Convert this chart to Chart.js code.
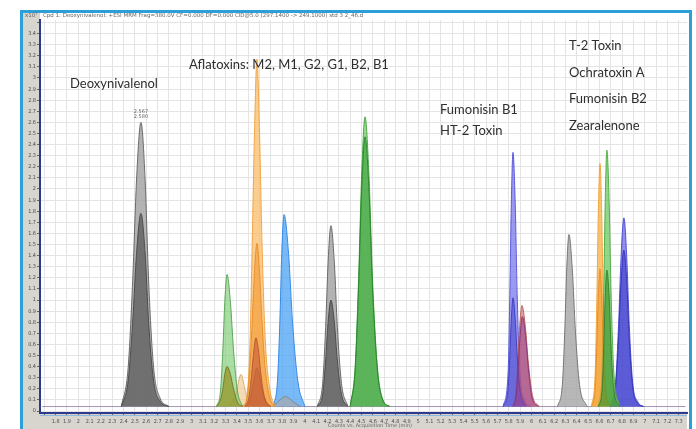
<!DOCTYPE html>
<html>
<head>
<meta charset="utf-8">
<script src="https://cdn.jsdelivr.net/npm/chart.js@4.4.1/dist/chart.umd.min.js"></script>
<style>
  html, body { margin: 0; padding: 0; background: #fff; }
  #wrap { width: 696px; height: 429px; position: relative; }
</style>
</head>
<body>
<div id="wrap"><canvas id="chrom"></canvas></div>
<script>
// Eixos (tempo em min, contagens x10^7)
const xTickValues = [1.7,1.8,1.9,2,2.1,2.2,2.3,2.4,2.5,2.6,2.7,2.8,2.9,3,3.1,3.2,3.3,3.4,3.5,3.6,3.7,3.8,3.9,
  4,4.1,4.2,4.3,4.4,4.5,4.6,4.7,4.8,4.9,5,5.1,5.2,5.3,5.4,5.5,5.6,5.7,5.8,5.9,6,6.1,6.2,6.3,6.4,6.5,6.6,6.7,6.8,6.9,7,7.1,7.2,7.3];
const yTickValues = [0,0.1,0.2,0.3,0.4,0.5,0.6,0.7,0.8,0.9,1,1.1,1.2,1.3,1.4,1.5,1.6,1.7,1.8,1.9,2,
  2.1,2.2,2.3,2.4,2.5,2.6,2.7,2.8,2.9,3,3.1,3.2,3.3,3.4,3.5];

const compoundLabels = ['Deoxynivalenol', 'Aflatoxins: M2, M1, G2, G1, B2, B1', 'Fumonisin B1', 'HT-2 Toxin',
  'T-2 Toxin', 'Ochratoxin A', 'Fumonisin B2', 'Zearalenone'];

// Picos [tempo, contagens]
const baseline = [[1.68,0.04],[7.36,0.04]];
const donOuter = [[2.38,0.04],[2.44,0.39],[2.48,1.17],[2.514,2.08],[2.553,2.6],[2.59,2.08],[2.621,1.17],[2.665,0.39],[2.72,0.12],[2.8,0.04]];
const donInner = [[2.38,0.04],[2.44,0.27],[2.48,0.8],[2.514,1.42],[2.553,1.78],[2.59,1.42],[2.621,0.8],[2.665,0.27],[2.72,0.09],[2.8,0.04]];
const aflaGreen = [[3.22,0.04],[3.255,0.18],[3.276,0.55],[3.293,0.98],[3.313,1.23],[3.343,0.98],[3.37,0.55],[3.405,0.18],[3.45,0.04]];
const aflaOlive = [[3.22,0.04],[3.255,0.1],[3.276,0.2],[3.293,0.33],[3.313,0.4],[3.343,0.33],[3.37,0.2],[3.405,0.08],[3.45,0.04]];
const aflaTan = [[3.33,0.04],[3.39,0.15],[3.436,0.33],[3.47,0.2],[3.5,0.07],[3.55,0.04]];
const aflaOrange = [[3.45,0.04],[3.49,0.15],[3.515,0.6],[3.535,1.5],[3.555,2.5],[3.577,3.17],[3.6,2.5],[3.622,1.5],[3.65,0.65],[3.69,0.2],[3.74,0.04]];
const aflaOrangeMid = [[3.45,0.04],[3.49,0.12],[3.515,0.4],[3.535,0.8],[3.555,1.25],[3.577,1.51],[3.6,1.25],[3.622,0.8],[3.65,0.38],[3.69,0.12],[3.74,0.04]];
const aflaBrown = [[3.47,0.04],[3.505,0.12],[3.53,0.33],[3.55,0.55],[3.568,0.66],[3.59,0.55],[3.612,0.33],[3.64,0.14],[3.69,0.04]];
const aflaBrownLow = [[3.48,0.04],[3.515,0.1],[3.54,0.22],[3.56,0.33],[3.577,0.39],[3.598,0.33],[3.62,0.2],[3.65,0.09],[3.7,0.04]];
const aflaBlue = [[3.72,0.04],[3.758,0.27],[3.779,0.8],[3.796,1.42],[3.816,1.77],[3.856,1.42],[3.891,0.8],[3.938,0.27],[4.0,0.04]];
const aflaBump = [[3.72,0.04],[3.78,0.1],[3.83,0.13],[3.9,0.08],[3.96,0.04]];
const aflaGray = [[4.11,0.04],[4.157,0.25],[4.183,0.75],[4.205,1.34],[4.23,1.67],[4.26,1.34],[4.287,0.75],[4.323,0.25],[4.38,0.04]];
const aflaGrayIn = [[4.11,0.04],[4.157,0.15],[4.183,0.45],[4.205,0.8],[4.23,1.0],[4.26,0.8],[4.287,0.45],[4.323,0.15],[4.38,0.04]];
const aflaB1 = [[4.4,0.04],[4.444,0.4],[4.474,1.19],[4.501,2.12],[4.531,2.65],[4.566,2.12],[4.597,1.19],[4.64,0.4],[4.69,0.1],[4.75,0.04]];
const aflaB1In = [[4.4,0.04],[4.444,0.37],[4.474,1.11],[4.501,1.98],[4.531,2.47],[4.566,1.98],[4.597,1.11],[4.64,0.37],[4.69,0.09],[4.75,0.04]];
const fumB1 = [[5.75,0.04],[5.794,0.35],[5.809,1.05],[5.822,1.86],[5.837,2.33],[5.857,1.86],[5.874,1.05],[5.898,0.35],[5.94,0.1],[5.99,0.04]];
const fumB1In = [[5.75,0.04],[5.794,0.2],[5.809,0.5],[5.822,0.82],[5.837,1.02],[5.857,0.82],[5.874,0.5],[5.898,0.2],[5.95,0.04]];
const ht2Rose = [[5.83,0.04],[5.858,0.14],[5.879,0.43],[5.896,0.76],[5.916,0.95],[5.946,0.76],[5.973,0.43],[6.009,0.14],[6.07,0.04]];
const ht2Plum = [[5.84,0.04],[5.865,0.14],[5.884,0.4],[5.9,0.68],[5.92,0.85],[5.948,0.68],[5.973,0.38],[6.005,0.12],[6.06,0.04]];
const t2Gray = [[6.23,0.04],[6.273,0.24],[6.294,0.72],[6.311,1.27],[6.331,1.59],[6.361,1.27],[6.388,0.72],[6.424,0.24],[6.49,0.04]];
const ochraOrange = [[6.53,0.04],[6.562,0.33],[6.577,1.0],[6.59,1.78],[6.605,2.23],[6.62,1.78],[6.633,1.0],[6.651,0.33],[6.69,0.04]];
const ochraOrangeIn = [[6.53,0.04],[6.562,0.19],[6.577,0.58],[6.59,1.02],[6.605,1.28],[6.62,1.02],[6.633,0.58],[6.651,0.19],[6.69,0.04]];
const fumB2Green = [[6.59,0.04],[6.623,0.35],[6.638,1.06],[6.651,1.88],[6.666,2.35],[6.686,1.88],[6.703,1.06],[6.727,0.35],[6.78,0.04]];
const fumB2GreenIn = [[6.59,0.04],[6.623,0.19],[6.638,0.57],[6.651,1.02],[6.666,1.27],[6.686,1.02],[6.703,0.57],[6.727,0.19],[6.78,0.04]];
const zeaBlue = [[6.7,0.04],[6.743,0.26],[6.769,0.78],[6.791,1.39],[6.816,1.74],[6.841,1.39],[6.863,0.78],[6.893,0.26],[6.94,0.08],[6.99,0.04]];
const zeaBlueIn = [[6.7,0.04],[6.743,0.22],[6.769,0.65],[6.791,1.16],[6.816,1.45],[6.841,1.16],[6.863,0.65],[6.893,0.22],[6.94,0.07],[6.99,0.04]];

// [pontos, preenchimento, contorno, camada]
const traces = [
  [baseline, 'rgba(0,0,0,0)', 'rgba(140,120,160,0.8)', 3],
  [donOuter, 'rgba(160,160,160,0.8)', 'rgba(95,95,95,0.9)', 2],
  [donInner, 'rgba(100,100,100,0.85)', 'rgba(70,70,70,0.9)', 1],
  [aflaGreen, 'rgba(125,205,115,0.65)', 'rgba(80,160,80,0.9)', 2],
  [aflaTan, 'rgba(240,200,140,0.65)', 'rgba(215,170,110,0.9)', 2],
  [aflaOlive, 'rgba(150,150,40,0.75)', 'rgba(115,115,30,0.9)', 1],
  [aflaOrange, 'rgba(250,188,105,0.75)', 'rgba(240,160,60,0.9)', 2],
  [aflaOrangeMid, 'rgba(245,160,60,0.7)', 'rgba(230,140,40,0.9)', 1],
  [aflaBrown, 'rgba(205,105,60,0.75)', 'rgba(180,85,45,0.9)', 0],
  [aflaBrownLow, 'rgba(175,85,50,0.6)', 'rgba(150,70,40,0.9)', 0],
  [aflaBlue, 'rgba(75,162,245,0.75)', 'rgba(40,130,230,0.9)', 2],
  [aflaBump, 'rgba(170,170,170,0.7)', 'rgba(130,130,130,0.9)', 1],
  [aflaGray, 'rgba(160,160,160,0.8)', 'rgba(95,95,95,0.9)', 2],
  [aflaGrayIn, 'rgba(100,100,100,0.85)', 'rgba(70,70,70,0.9)', 1],
  [aflaB1, 'rgba(115,205,105,0.75)', 'rgba(60,160,60,0.9)', 2],
  [aflaB1In, 'rgba(60,160,60,0.65)', 'rgba(40,130,40,0.9)', 1],
  [fumB1, 'rgba(120,120,235,0.75)', 'rgba(80,80,215,0.9)', 2],
  [fumB1In, 'rgba(80,80,210,0.65)', 'rgba(60,60,190,0.9)', 1],
  [ht2Rose, 'rgba(210,120,120,0.7)', 'rgba(190,90,90,0.9)', 1],
  [ht2Plum, 'rgba(150,60,140,0.55)', 'rgba(130,50,120,0.9)', 0],
  [t2Gray, 'rgba(170,170,170,0.85)', 'rgba(110,110,110,0.9)', 2],
  [ochraOrange, 'rgba(250,182,85,0.8)', 'rgba(240,160,50,0.9)', 2],
  [ochraOrangeIn, 'rgba(245,160,50,0.65)', 'rgba(225,140,40,0.9)', 1],
  [fumB2Green, 'rgba(110,200,100,0.75)', 'rgba(70,170,60,0.9)', 1],
  [fumB2GreenIn, 'rgba(70,150,50,0.7)', 'rgba(50,125,40,0.9)', 0],
  [zeaBlue, 'rgba(105,105,230,0.75)', 'rgba(70,70,215,0.9)', 2],
  [zeaBlueIn, 'rgba(70,70,205,0.7)', 'rgba(50,50,180,0.9)', 1]
];

const datasets = traces.map(([pts, fill, line, layer]) => ({
  data: pts.map(p => ({x: p[0], y: p[1]})),
  backgroundColor: fill,
  borderColor: line,
  borderWidth: 1,
  pointRadius: 0,
  cubicInterpolationMode: 'monotone',
  fill: {value: 0.04},
  order: layer
}));

const fmt = v => String(Math.round(v * 10) / 10);

const frame = {
  id: 'frame',
  beforeDraw(chart) {
    const ctx = chart.ctx, a = chart.chartArea;
    ctx.save();
    ctx.fillStyle = '#ffffff';
    ctx.fillRect(0, 0, chart.width, chart.height);
    ctx.fillStyle = '#d8d5ce';
    ctx.fillRect(23, 13, a.left - 23, chart.height - 13);
    ctx.fillRect(23, a.bottom + 1, a.right - 23, chart.height - a.bottom);
    ctx.restore();
  },
  afterDraw(chart) {
    const ctx = chart.ctx, a = chart.chartArea;
    ctx.save();
    ctx.strokeStyle = '#2c9fd8';
    ctx.lineWidth = 3;
    ctx.beginPath();
    ctx.moveTo(21.5, chart.height);
    ctx.lineTo(21.5, 11.5);
    ctx.lineTo(690.5, 11.5);
    ctx.lineTo(690.5, chart.height);
    ctx.stroke();
    ctx.strokeStyle = '#8fb8e0';
    ctx.lineWidth = 1;
    ctx.beginPath();
    ctx.moveTo(a.left, a.bottom + 2.5);
    ctx.lineTo(a.right, a.bottom + 2.5);
    ctx.stroke();

    ctx.fillStyle = '#666';
    ctx.font = '5.5px "DejaVu Sans"';
    ctx.textBaseline = 'middle';
    ctx.fillText('Cpd 1: Deoxynivalenol: +ESI MRM Frag=380.0V CF=0.000 DF=0.000 CID@5.0 (297.1400 -> 249.1000) std 3 2_46.d', 43, 16);
    ctx.fillText('x10', 25, 16);
    ctx.font = '4px "DejaVu Sans"';
    ctx.fillText('7', 35, 14);
    ctx.font = '5px "DejaVu Sans"';
    ctx.fillText('Counts vs. Acquisition Time (min)', 328, 426);
    ctx.textAlign = 'center';
    ctx.fillText('2.567', 141, 112);
    ctx.fillText('2.580', 141, 117);

    ctx.textAlign = 'left';
    ctx.fillStyle = '#2e2e2e';
    ctx.font = '13px Lato';
    const spots = [[70, 84], [189, 65], [440, 110], [440, 131], [569, 46], [569, 73], [569, 99], [569, 126]];
    compoundLabels.forEach((t, i) => ctx.fillText(t, spots[i][0], spots[i][1]));
    ctx.restore();
  }
};

new Chart(document.getElementById('chrom'), {
  type: 'line',
  data: { datasets: datasets },
  options: {
    responsive: true,
    maintainAspectRatio: false,
    animation: false,
    layout: { padding: { left: 23, top: 20, right: 9, bottom: 0 } },
    plugins: { legend: { display: false }, tooltip: { enabled: false } },
    scales: {
      x: {
        type: 'linear',
        min: 1.662,
        max: 7.373,
        afterBuildTicks: s => { s.ticks = xTickValues.map(v => ({value: v})); },
        afterFit: s => { s.height = 16; },
        grid: { color: '#e4e4e4', lineWidth: 1, tickLength: 3, tickColor: '#666' },
        border: { display: true, color: '#2d3a8e', width: 2 },
        ticks: {
          autoSkip: false,
          maxRotation: 0,
          padding: 2,
          color: '#4a4a55',
          font: { size: 5.5, family: 'DejaVu Sans Condensed' },
          callback: v => (v < 1.75 ? '' : fmt(v))
        }
      },
      y: {
        type: 'linear',
        min: -0.018,
        max: 3.5225,
        afterBuildTicks: s => { s.ticks = yTickValues.map(v => ({value: v})); },
        afterFit: s => { s.width = 17; },
        grid: { color: '#e4e4e4', lineWidth: 1, tickLength: 3, tickColor: '#666' },
        border: { display: true, color: '#2d3a8e', width: 2 },
        ticks: {
          autoSkip: false,
          padding: 1,
          color: '#4a4a55',
          font: { size: 5.5, family: 'DejaVu Sans Condensed' },
          callback: v => (v > 3.45 ? '' : fmt(v))
        }
      }
    }
  },
  plugins: [frame]
});
</script>
</body>
</html>
